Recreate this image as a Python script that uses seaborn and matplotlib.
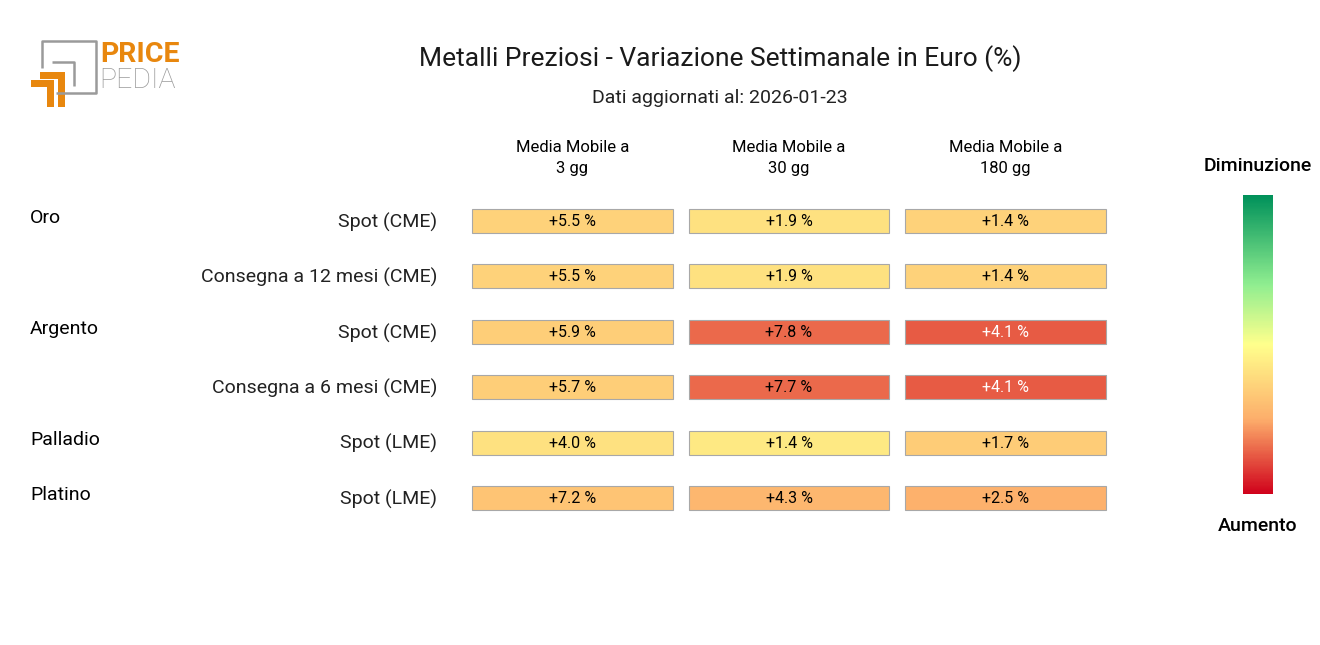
import numpy as np
import pandas as pd
import seaborn as sns
import matplotlib.pyplot as plt
from matplotlib.colors import LinearSegmentedColormap
from matplotlib.cm import ScalarMappable
from matplotlib.colors import Normalize

# data
groups = ['Oro', '', 'Argento', '', 'Palladio', 'Platino']
rows = ['Spot (CME)', 'Consegna a 12 mesi (CME)', 'Spot (CME)',
        'Consegna a 6 mesi (CME)', 'Spot (LME)', 'Spot (LME)']
columns = ['Media Mobile a\n3 gg', 'Media Mobile a\n30 gg', 'Media Mobile a\n180 gg']
mm3 = [5.5, 5.5, 5.9, 5.7, 4.0, 7.2]
mm30 = [1.9, 1.9, 7.8, 7.7, 1.4, 4.3]
mm180 = [1.4, 1.4, 4.1, 4.1, 1.7, 2.5]
# colour score (0 = strong increase, 1 = strong decrease)
score3 = [0.36, 0.36, 0.35, 0.35, 0.41, 0.32]
score30 = [0.41, 0.41, 0.15, 0.15, 0.43, 0.28]
score180 = [0.36, 0.36, 0.13, 0.13, 0.34, 0.26]

sns.set_theme(style='white')
plt.rcParams['font.family'] = ['Roboto', 'DejaVu Sans']

cmap = LinearSegmentedColormap.from_list(
    'pp', [(0.0, '#d0021b'), (0.25, '#fdae6b'), (0.5, '#ffff8c'),
           (0.7, '#90ee90'), (1.0, '#00915a')])

values = pd.DataFrame({0: mm3, 1: mm30, 2: mm180})
scores = pd.DataFrame({0: score3, 1: score30, 2: score180})

W, H = 1320, 645
fig = plt.figure(figsize=(W / 100, H / 100), dpi=100)


def px(x0, y0, x1, y1):
    return [x0 / W, 1 - y1 / H, (x1 - x0) / W, (y1 - y0) / H]


# main grid
ax = fig.add_axes(px(464.25, 193.3, 1113.75, 525.7))
ax.set_xlim(-0.5, 2.5)
ax.set_ylim(5.5, -0.5)
for j in range(3):
    cols = [cmap(s) for s in scores[j]]
    ax.barh(np.arange(len(rows)), 0.928, left=j - 0.464, height=0.435,
            color=cols, edgecolor='#a8a8a8', linewidth=0.8)
    for i, v in enumerate(values[j]):
        tc = 'white' if scores[j][i] < 0.14 else 'black'
        ax.text(j, i + 0.01, f'+{v:.1f} %', ha='center', va='center', fontsize=11.5,
                color=tc)
ax.axis('off')

# row labels and groups
for i, (g, r) in enumerate(zip(groups, rows)):
    ax.text(-0.626, i + 0.02, r, ha='right', va='center', fontsize=14, color='#222222')
    if g:
        ax.text(30 / W, 1 - (218 + 55.4 * i) / H, g, transform=fig.transFigure,
                ha='left', va='center', fontsize=14, color='black')

for j, c in enumerate(columns):
    ax.text(j, -0.82, c, ha='center', va='bottom', fontsize=12, color='black',
            linespacing=1.45)

fig.text(720 / W, 1 - 59 / H, 'Metalli Preziosi - Variazione Settimanale in Euro (%)',
         ha='center', va='center', fontsize=19, color='#1a1a1a')
fig.text(720 / W, 1 - 98 / H, 'Dati aggiornati al: 2026-01-23',
         ha='center', va='center', fontsize=14, color='#222222')

# colour bar
cax = fig.add_axes(px(1243, 195, 1273, 494))
cb = fig.colorbar(ScalarMappable(norm=Normalize(0, 1), cmap=cmap), cax=cax)
cb.outline.set_visible(False)
cb.set_ticks([])
fig.text(1258 / W, 1 - 166 / H, 'Diminuzione', ha='center', va='center', fontsize=14,
         fontweight='medium', color='black')
fig.text(1258 / W, 1 - 526 / H, 'Aumento', ha='center', va='center', fontsize=14,
         fontweight='medium', color='black')

# logo
lax = fig.add_axes(px(25, 35, 185, 110))
lax.set_xlim(25, 185)
lax.set_ylim(110, 35)
lax.axis('off')
gray = '#9a9a9a'
orange = '#e8870e'
lax.plot([42, 42, 95.5, 95.5, 56], [68, 41, 41, 93, 93], color=gray, lw=1.8,
         solid_capstyle='butt')
lax.plot([52, 73.5, 73.5], [61.5, 61.5, 86], color=gray, lw=1.8,
         solid_capstyle='butt')
lax.fill([40, 65, 65, 58, 58, 40], [72, 72, 107, 107, 78.5, 78.5], color=orange, lw=0)
lax.fill([31, 53.5, 53.5, 47, 47, 31], [80, 80, 107, 107, 87, 87], color=orange, lw=0)
lax.text(100, 54, 'PRICE', ha='left', va='center', fontsize=20.5, fontweight='bold',
         color=orange)
lax.text(99, 80, 'PEDIA', ha='left', va='center', fontsize=20.5, fontweight='light',
         color=gray)

fig.savefig('out.png', dpi=100)
